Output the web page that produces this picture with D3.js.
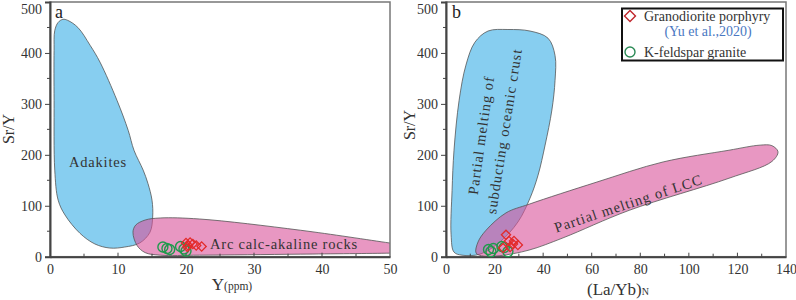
<!DOCTYPE html>
<html>
<head>
<meta charset="utf-8">
<script src="https://cdn.jsdelivr.net/npm/d3@7"></script>
<style>
  body { margin: 0; background: #fff; }
  svg text { font-family: "Liberation Serif", "Times New Roman", Tinos, "DejaVu Serif", serif !important; }
</style>
</head>
<body>
<div id="chart"></div>
<script>
// field outlines ([x, Sr/Y])
var adakites = [[1.9,466],[2.6,464],[4.1,450],[5.9,415],[7.35,382],[9.85,307],[11.5,248],[12.35,209],[13.7,170],[14.4,144],[15,111],[15.1,78],[14.7,48],[13.2,27],[11,19],[8.8,17],[6.6,25],[4.4,46],[2.2,82],[1.2,111],[0.7,170],[0.6,307],[0.6,405],[0.7,444],[1.2,460]];
var arcRocks = [[12.2,48],[12.6,62],[14,72],[16.2,76],[22,74],[36.8,52],[49.9,27],[53,21],[53,8],[50,7],[36.8,5],[22,3],[16.2,3],[14,8],[12.8,22]];
var oceanicCrust = [[25.5,446],[34.6,443],[42,429],[44.9,395],[44.9,346],[43.6,288],[40.8,219],[37.9,160],[34.6,115],[29.6,68],[22.2,29],[14,5],[6.6,3],[3.3,9],[2.1,43],[2.5,130],[3.3,209],[5.4,307],[8.2,376],[11.9,421],[17.3,443]];
var lccField = [[12.4,7],[13.2,29],[16.5,52],[24.7,86],[34.2,103],[61.8,146],[89.4,186],[116.5,209],[129.3,219],[134.2,218],[136.7,206],[134.2,187],[116.5,154],[75.4,91],[48.2,37],[34.2,13],[22.2,2],[15.6,1]];

// samples
var granoA = [[20.0,27],[20.3,22],[20.6,28],[21.0,25],[21.5,22],[22.3,20],[20.2,19]];
var kfsA = [[16.6,19],[17.2,16],[17.6,14],[19.2,20],[19.7,15],[20.0,11]];
var granoB = [[24.7,43],[25.9,31],[27.6,25],[29.6,23],[26.4,19],[23.5,17],[28,31]];
var kfsB = [[17.5,14],[18.5,10],[19.5,16],[23,20],[24,18],[25.5,10]];

var xTicksA = [0,10,20,30,40,50];
var xTicksB = [0,20,40,60,80,100,120,140];
var yTicks = [0,100,200,300,400,500];

var W = 796, H = 300;
var svg = d3.select("#chart").append("svg").attr("width", W).attr("height", H);

var y = d3.scaleLinear().domain([0,500]).range([256.7, 2]);
var xa = d3.scaleLinear().domain([0,50]).range([50, 390]);
var xb = d3.scaleLinear().domain([0,140]).range([446, 786]);

var blue = "rgb(135,206,240)";
var pink = "#d9529a";
var red = "#e32b2b";
var green = "#1f9a4c";

function panel(id, x, xTicks, minorStep, majorStep) {
  var g = svg.append("g");
  var r = x.range(), yr = y.range();
  g.append("clipPath").attr("id", "clip" + id)
    .append("rect").attr("x", r[0]).attr("y", yr[1]).attr("width", r[1] - r[0]).attr("height", yr[0] - yr[1]);
  var plot = g.append("g").attr("clip-path", "url(#clip" + id + ")");
  var line = d3.line().x(function(d){ return x(d[0]); }).y(function(d){ return y(d[1]); })
    .curve(d3.curveCatmullRomClosed.alpha(0.5));

  // frame
  g.append("rect").attr("x", r[0]).attr("y", yr[1]).attr("width", r[1] - r[0]).attr("height", yr[0] - yr[1])
    .attr("fill", "none").attr("stroke", "#777").attr("stroke-width", 1.5);

  // y axis
  var yAxis = d3.axisLeft(y).tickValues(yTicks).tickSize(5).tickPadding(3);
  var ya = g.append("g").attr("transform", "translate(" + r[0] + ",0)").call(yAxis);
  ya.selectAll(".tick").filter(function(d){ return d === 500; }).select("text").attr("dy", "0.85em");
  var yMinor = d3.range(50, 500, 100);
  g.selectAll(".ym").data(yMinor).enter().append("line")
    .attr("x1", r[0] - 3).attr("x2", r[0]).attr("y1", function(d){ return y(d); }).attr("y2", function(d){ return y(d); })
    .attr("stroke", "#444").attr("stroke-width", 1);

  // x axis
  var xAxis = d3.axisBottom(x).tickValues(xTicks).tickSize(0).tickPadding(7);
  var xa_ = g.append("g").attr("transform", "translate(0," + yr[0] + ")").call(xAxis);
  var xMinor = d3.range(minorStep, x.domain()[1], minorStep);
  g.selectAll(".xm").data(xMinor).enter().append("line")
    .attr("x1", function(d){ return x(d); }).attr("x2", function(d){ return x(d); })
    .attr("y1", yr[0]).attr("y2", function(d){ return yr[0] - (d % majorStep === 0 ? 4 : 3); })
    .attr("stroke", "#444").attr("stroke-width", 1);

  [ya, xa_].forEach(function(a) {
    a.attr("font-family", null);
    a.select(".domain").attr("stroke", "#444").attr("stroke-width", 2);
    a.selectAll(".tick line").attr("stroke", "#444");
    a.selectAll(".tick text").attr("fill", "#333").style("font-size", "14px");
  });

  return { g: g, plot: plot, line: line };
}

function diamonds(g, pts, x) {
  g.selectAll(".dm").data(pts).enter().append("path")
    .attr("d", d3.symbol().type(d3.symbolSquare).size(42))
    .attr("transform", function(d){ return "translate(" + x(d[0]) + "," + y(d[1]) + ") rotate(45)"; })
    .attr("fill", "none").attr("stroke", red).attr("stroke-width", 1.3);
}
function circles(g, pts, x) {
  g.selectAll(".cc").data(pts).enter().append("circle")
    .attr("cx", function(d){ return x(d[0]); }).attr("cy", function(d){ return y(d[1]); }).attr("r", 5)
    .attr("fill", "none").attr("stroke", green).attr("stroke-width", 1.4);
}

// ---- panel a
var pa = panel("a", xa, xTicksA, 5, 10);
pa.plot.append("path").datum(adakites).attr("d", pa.line)
  .attr("fill", blue).attr("stroke", "#555").attr("stroke-width", 0.8);
pa.plot.append("path").datum(arcRocks).attr("d", pa.line)
  .attr("fill", pink).attr("fill-opacity", 0.6).attr("stroke", "#555").attr("stroke-width", 0.8);
pa.g.append("text").attr("x", 69).attr("y", 167).attr("fill", "#333").style("font-size", "14.5px").style("letter-spacing", "0.8px").text("Adakites");
pa.g.append("text").attr("x", 210).attr("y", 249).attr("fill", "#333").style("font-size", "14.5px").style("letter-spacing", "0.8px").text("Arc calc-akaline rocks");
circles(pa.g, kfsA, xa);
diamonds(pa.g, granoA, xa);
pa.g.append("text").attr("x", 55).attr("y", 18).attr("fill", "#222").style("font-size", "18px").text("a");
pa.g.append("text").attr("transform", "translate(14,129) rotate(-90)").attr("text-anchor", "middle")
  .attr("fill", "#333").style("font-size", "16px").text("Sr/Y");
var tA = pa.g.append("text").attr("x", 232).attr("y", 290).attr("text-anchor", "middle").attr("fill", "#333");
tA.append("tspan").style("font-size", "17px").text("Y");
tA.append("tspan").style("font-size", "11.5px").text("(ppm)");

// ---- panel b
var pb = panel("b", xb, xTicksB, 10, 20);
pb.plot.append("path").datum(oceanicCrust).attr("d", pb.line)
  .attr("fill", blue).attr("stroke", "#555").attr("stroke-width", 0.8);
pb.plot.append("path").datum(lccField).attr("d", pb.line)
  .attr("fill", pink).attr("fill-opacity", 0.6).attr("stroke", "#555").attr("stroke-width", 0.8);
pb.g.append("text").attr("transform", "translate(486,136) rotate(-82)").attr("text-anchor", "middle")
  .attr("fill", "#333").style("font-size", "14.5px").style("letter-spacing", "1px").text("Partial melting of");
pb.g.append("text").attr("transform", "translate(509,132) rotate(-81)").attr("text-anchor", "middle")
  .attr("fill", "#333").style("font-size", "14.5px").style("letter-spacing", "1px").text("subducting oceanic crust");
pb.g.append("text").attr("transform", "translate(630,208) rotate(-18.5)").attr("text-anchor", "middle")
  .attr("fill", "#333").style("font-size", "14.5px").style("letter-spacing", "1px").text("Partial melting of LCC");
circles(pb.g, kfsB, xb);
diamonds(pb.g, granoB, xb);
pb.g.append("text").attr("x", 452).attr("y", 18).attr("fill", "#222").style("font-size", "18px").text("b");
pb.g.append("text").attr("transform", "translate(415,125) rotate(-90)").attr("text-anchor", "middle")
  .attr("fill", "#333").style("font-size", "16px").text("Sr/Y");
var tB = pb.g.append("text").attr("x", 618).attr("y", 295).attr("text-anchor", "middle").attr("fill", "#333");
tB.append("tspan").style("font-size", "17px").text("(La/Yb)");
tB.append("tspan").style("font-size", "10px").text("N");

// legend
var lg = svg.append("g");
lg.append("rect").attr("x", 622).attr("y", 8.5).attr("width", 161).attr("height", 52)
  .attr("fill", "#fff").attr("stroke", "#111").attr("stroke-width", 2);
lg.append("path").attr("d", d3.symbol().type(d3.symbolSquare).size(60))
  .attr("transform", "translate(630,16) rotate(45)").attr("fill", "none").attr("stroke", "#c0272d").attr("stroke-width", 1.4);
lg.append("text").attr("x", 644).attr("y", 21).attr("fill", "#333").style("font-size", "14px").text("Granodiorite porphyry");
lg.append("text").attr("x", 708).attr("y", 36).attr("text-anchor", "middle").attr("fill", "#4a78c2").style("font-size", "14px").text("(Yu et al.,2020)");
lg.append("circle").attr("cx", 630).attr("cy", 52).attr("r", 5).attr("fill", "none").attr("stroke", "#2a8a55").attr("stroke-width", 1.4);
lg.append("text").attr("x", 644).attr("y", 57).attr("fill", "#333").style("font-size", "14px").text("K-feldspar granite");
</script>
</body>
</html>
